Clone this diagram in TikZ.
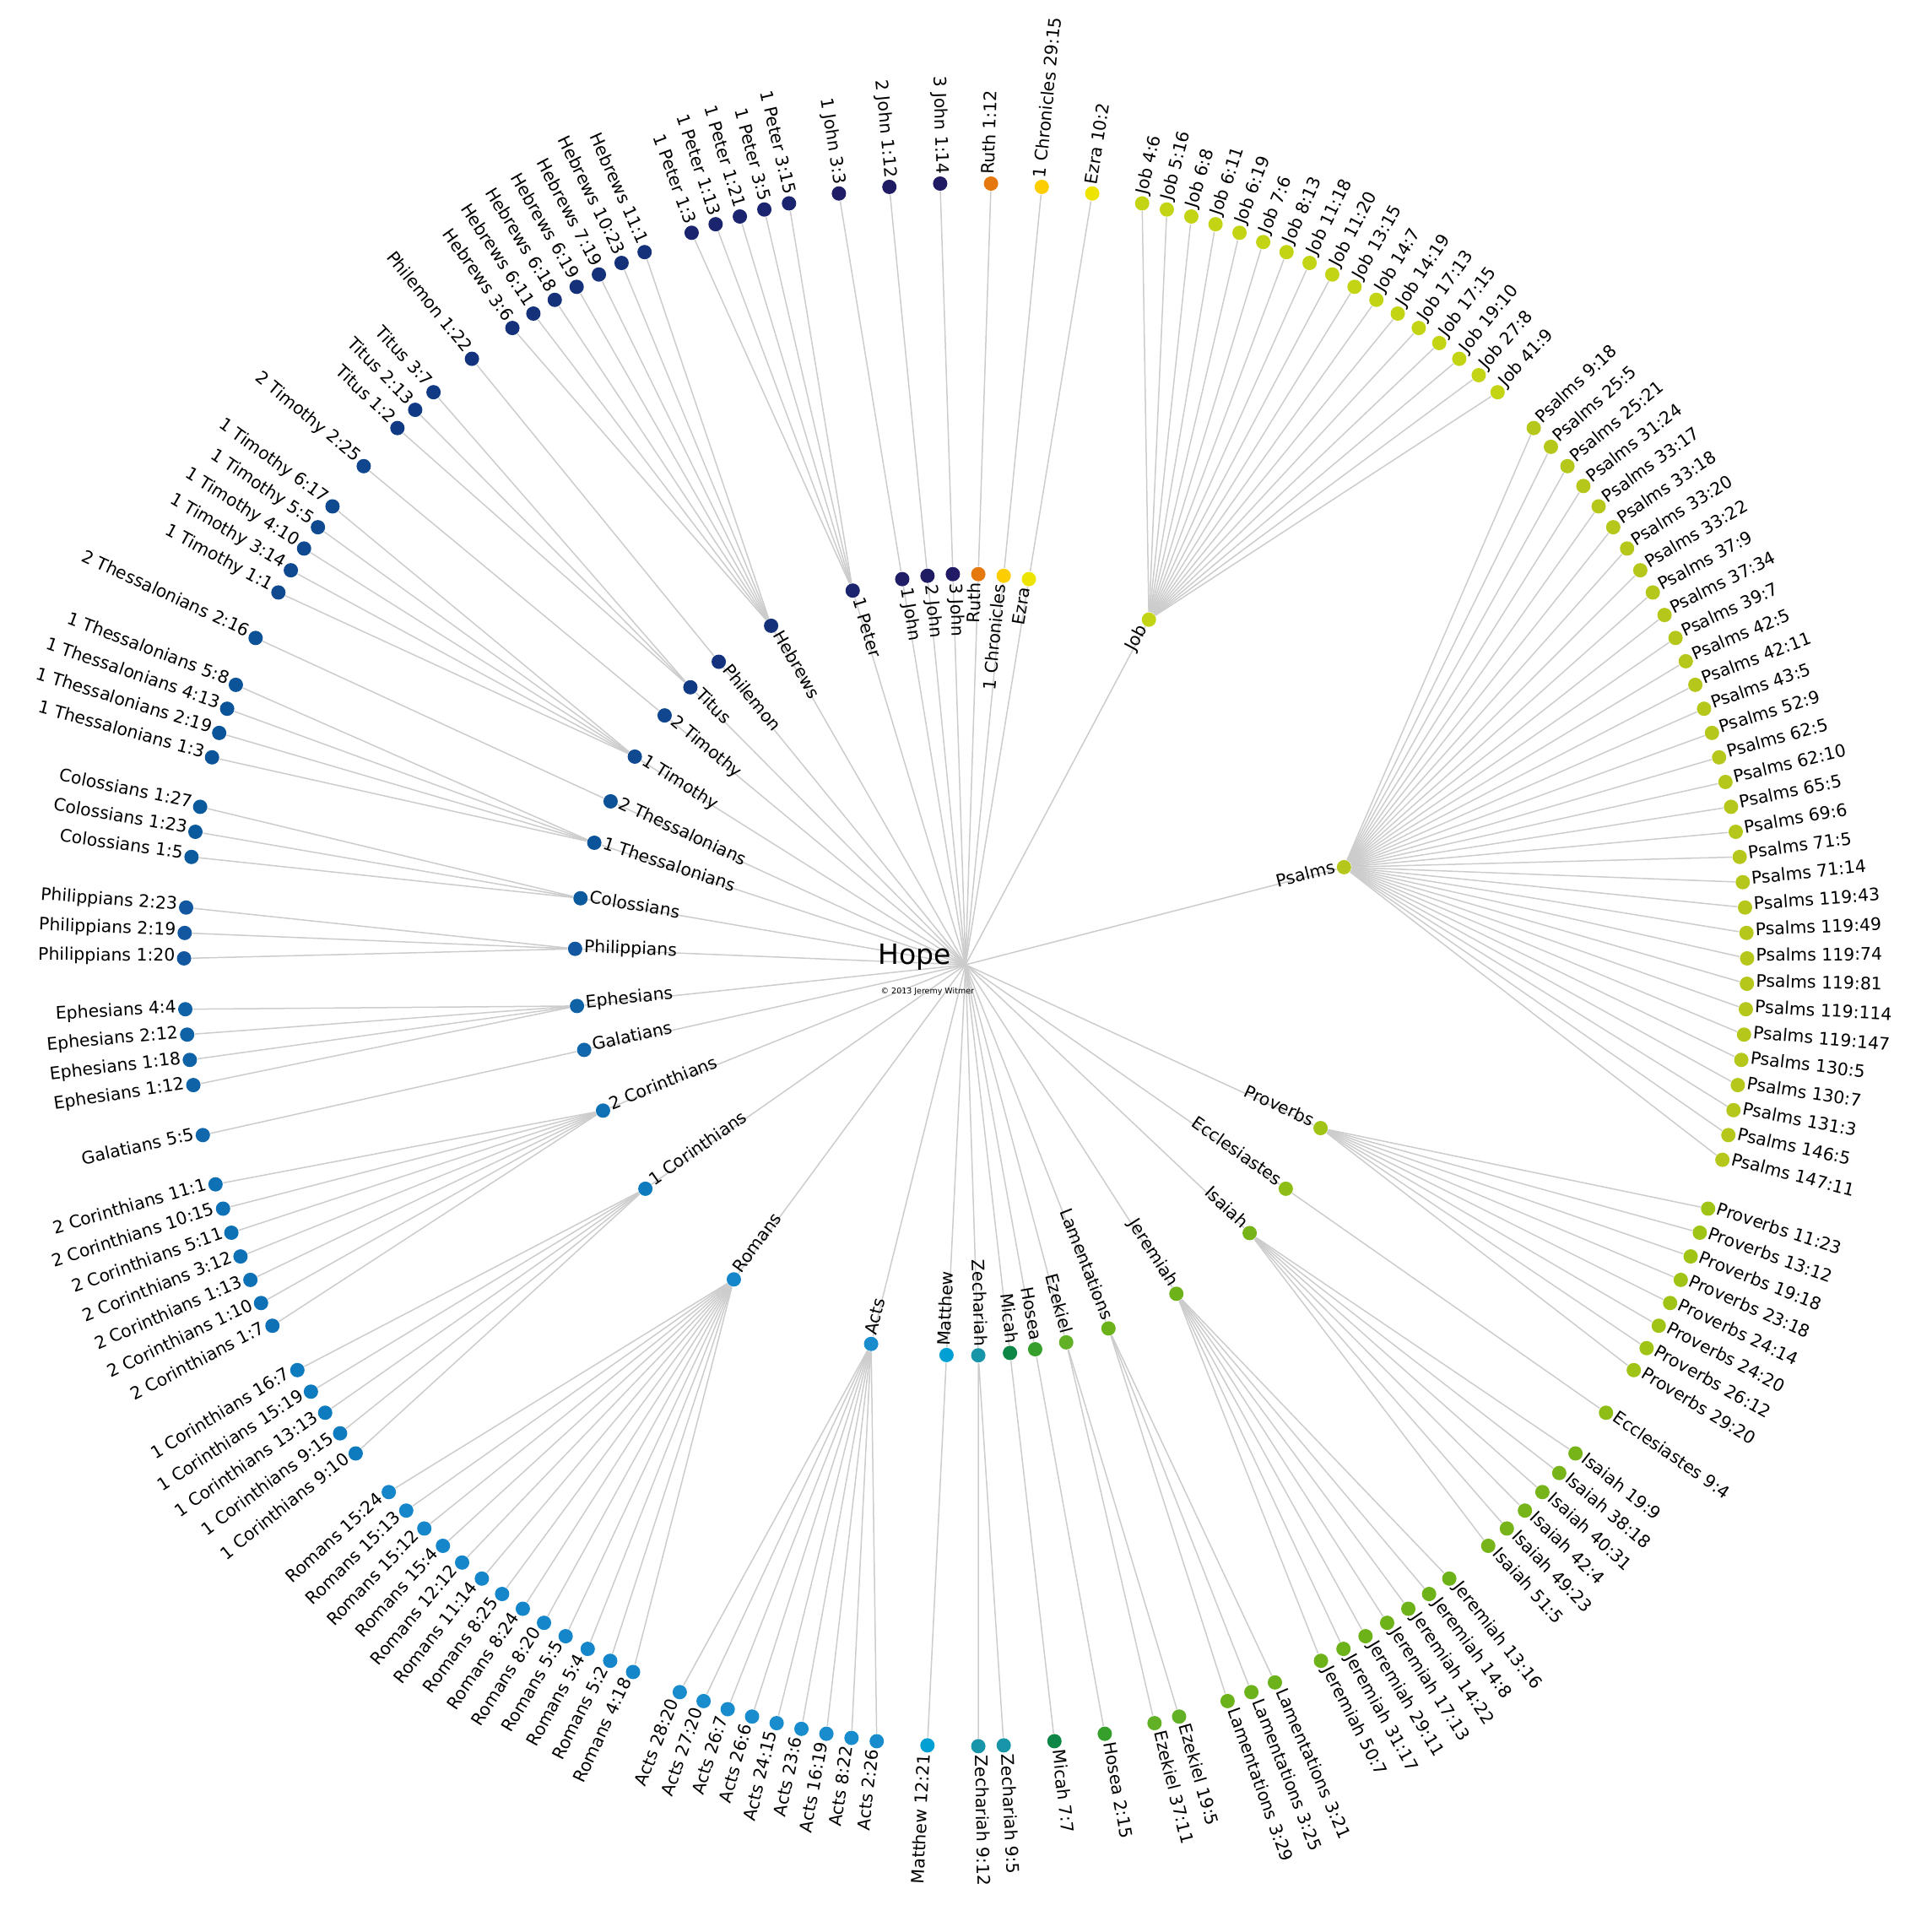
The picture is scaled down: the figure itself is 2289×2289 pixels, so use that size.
\documentclass[tikz,border=0pt]{standalone}
\usepackage{fontspec}
\setmainfont{DejaVu Sans}
\usepackage{xcolor}
\usepackage{tikz}
\usetikzlibrary{calc, backgrounds}

\definecolor{linkgrey}{RGB}{204,204,204}
\definecolor{ruth}{RGB}{229,120,14}
\definecolor{chron}{RGB}{252,205,0}
\definecolor{ezra}{RGB}{237,228,0}
\definecolor{job}{RGB}{195,212,20}
\definecolor{psalms}{RGB}{181,199,26}
\definecolor{prov}{RGB}{160,196,22}
\definecolor{eccl}{RGB}{142,190,22}
\definecolor{isa}{RGB}{118,180,26}
\definecolor{jer}{RGB}{110,178,26}
\definecolor{lam}{RGB}{108,178,26}
\definecolor{ezek}{RGB}{98,176,38}
\definecolor{hos}{RGB}{55,160,45}
\definecolor{mic}{RGB}{14,135,70}
\definecolor{zech}{RGB}{24,149,168}
\definecolor{matt}{RGB}{0,160,213}
\definecolor{acts}{RGB}{25,140,205}
\definecolor{rom}{RGB}{20,134,201}
\definecolor{cori}{RGB}{14,123,191}
\definecolor{corii}{RGB}{14,112,181}
\definecolor{gal}{RGB}{16,103,171}
\definecolor{eph}{RGB}{14,98,165}
\definecolor{phil}{RGB}{19,87,160}
\definecolor{col}{RGB}{12,90,158}
\definecolor{thessi}{RGB}{12,84,153}
\definecolor{thessii}{RGB}{13,82,150}
\definecolor{timi}{RGB}{15,74,144}
\definecolor{timii}{RGB}{15,70,142}
\definecolor{titus}{RGB}{17,58,132}
\definecolor{phlm}{RGB}{20,51,127}
\definecolor{heb}{RGB}{20,49,122}
\definecolor{peti}{RGB}{27,36,110}
\definecolor{johni}{RGB}{31,29,102}
\definecolor{johnii}{RGB}{31,28,100}
\definecolor{johniii}{RGB}{32,27,100}

\begin{document}
\begin{tikzpicture}[
    x=0.01cm, y=0.01cm,
    link/.style={draw=linkgrey, line width=0.015cm},
    dot/.style={circle, inner sep=0pt, minimum size=0.17cm},
    lbl/.style={inner sep=0pt, font=\fontsize{5.8}{7}\selectfont},
  ]
  \useasboundingbox (-1144,-1146) rectangle (1145,1143);
  % root
  \coordinate (root) at (0,0);
  \node[anchor=base east, inner sep=0pt, font=\fontsize{9.4}{11}\selectfont] (hope) at (-16,0) {Hope};
  \node[anchor=base west, inner sep=0pt, font=\fontsize{2.7}{3}\selectfont] (copy) at (-101,-35) {© 2013 Jeremy Witmer};
  % books (inner ring) and verses (outer ring), one step = 360/193 degrees
  \foreach \bk/\col/\first/\vs [count=\bi] in {
    Ruth/ruth/1/{1:12},
    1 Chronicles/chron/3/{29:15},
    Ezra/ezra/5/{10:2},
    Job/job/7/{4:6,5:16,6:8,6:11,6:19,7:6,8:13,11:18,11:20,13:15,14:7,14:19,17:13,17:15,19:10,27:8,41:9},
    Psalms/psalms/25/{9:18,25:5,25:21,31:24,33:17,33:18,33:20,33:22,37:9,37:34,39:7,42:5,42:11,43:5,52:9,62:5,62:10,65:5,69:6,71:5,71:14,119:43,119:49,119:74,119:81,119:114,119:147,130:5,130:7,131:3,146:5,147:11},
    Proverbs/prov/58/{11:23,13:12,19:18,23:18,24:14,24:20,26:12,29:20},
    Ecclesiastes/eccl/67/{9:4},
    Isaiah/isa/69/{19:9,38:18,40:31,42:4,49:23,51:5},
    Jeremiah/jer/76/{13:16,14:8,14:22,17:13,29:11,31:17,50:7},
    Lamentations/lam/84/{3:21,3:25,3:29},
    Ezekiel/ezek/88/{19:5,37:11},
    Hosea/hos/91/{2:15},
    Micah/mic/93/{7:7},
    Zechariah/zech/95/{9:5,9:12},
    Matthew/matt/98/{12:21},
    Acts/acts/100/{2:26,8:22,16:19,23:6,24:15,26:6,26:7,27:20,28:20},
    Romans/rom/110/{4:18,5:2,5:4,5:5,8:20,8:24,8:25,11:14,12:12,15:4,15:12,15:13,15:24},
    1 Corinthians/cori/124/{9:10,9:15,13:13,15:19,16:7},
    2 Corinthians/corii/130/{1:7,1:10,1:13,3:12,5:11,10:15,11:1},
    Galatians/gal/138/{5:5},
    Ephesians/eph/140/{1:12,1:18,2:12,4:4},
    Philippians/phil/145/{1:20,2:19,2:23},
    Colossians/col/149/{1:5,1:23,1:27},
    1 Thessalonians/thessi/153/{1:3,2:19,4:13,5:8},
    2 Thessalonians/thessii/158/{2:16},
    1 Timothy/timi/160/{1:1,3:14,4:10,5:5,6:17},
    2 Timothy/timii/166/{2:25},
    Titus/titus/168/{1:2,2:13,3:7},
    Philemon/phlm/172/{1:22},
    Hebrews/heb/174/{3:6,6:11,6:18,6:19,7:19,10:23,11:1},
    1 Peter/peti/182/{1:3,1:13,1:21,3:5,3:15},
    1 John/johni/188/{3:3},
    2 John/johnii/190/{1:12},
    3 John/johniii/192/{1:14}} {
    \foreach \vv [count=\nk] in \vs {\xdef\nv{\nk}}
    \pgfmathsetmacro\bang{90-(\first+(\nv-1)/2)*1.8652850}
    \node[dot, fill=\col] (b\bi) at (\bang:463) {};
    \ifdim\bang pt>-90pt
      \node[lbl, anchor=base east, rotate=\bang] (bl\bi) at ($(\bang:453)+(\bang-90:3.5)$) {\bk};
    \else
      \node[lbl, anchor=base west, rotate=\bang+180] (bl\bi) at ($(\bang:453)+(\bang+90:3.5)$) {\bk};
    \fi
    \begin{scope}[on background layer]
      \draw[link] (root) -- (b\bi);
    \end{scope}
    \foreach \vv [count=\vi from 0] in \vs {
      \pgfmathsetmacro\vang{90-(\first+\vi)*1.8652850}
      \node[dot, fill=\col] (v\bi-\vi) at (\vang:926) {};
      \ifdim\vang pt>-90pt
        \node[lbl, anchor=base west, rotate=\vang] (vl\bi-\vi) at ($(\vang:936)+(\vang-90:3.5)$) {\bk\ \vv};
      \else
        \node[lbl, anchor=base east, rotate=\vang+180] (vl\bi-\vi) at ($(\vang:936)+(\vang+90:3.5)$) {\bk\ \vv};
      \fi
      \begin{scope}[on background layer]
        \draw[link] (b\bi) -- (v\bi-\vi);
      \end{scope}
    }
  }
\end{tikzpicture}
\end{document}
